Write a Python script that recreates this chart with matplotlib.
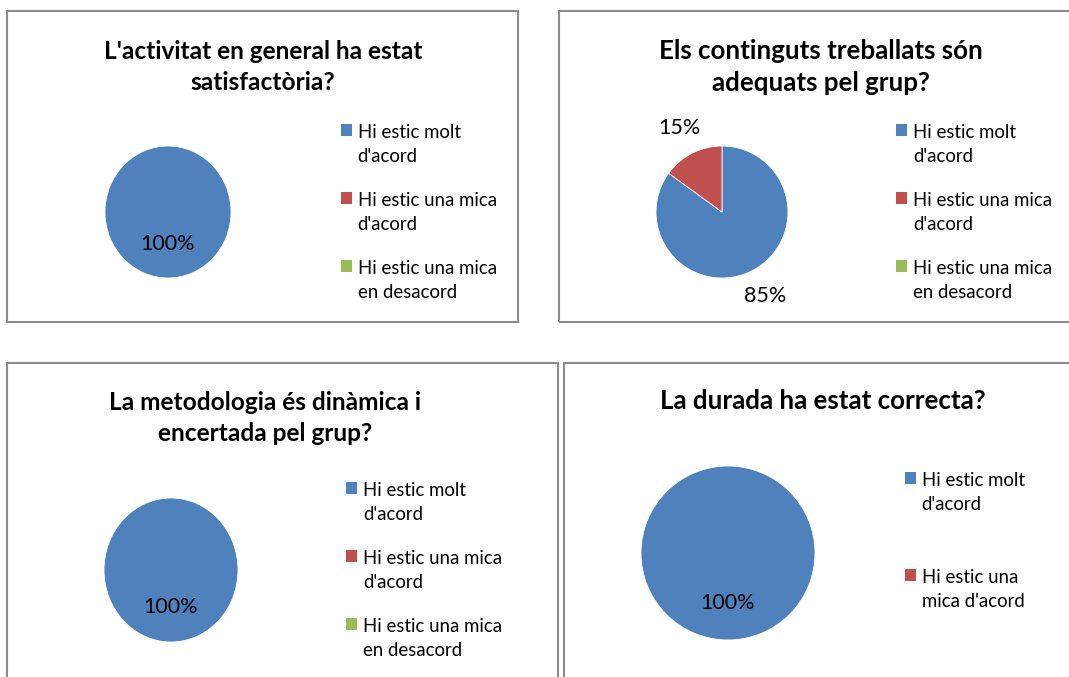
import matplotlib
matplotlib.use("Agg")
import matplotlib.pyplot as plt
from matplotlib.patches import Rectangle, Patch
from matplotlib.legend_handler import HandlerPatch

plt.rcParams['font.family'] = ['Lato', 'DejaVu Sans']

# Dades de l'enquesta (percentatges)
cats3 = ["Hi estic molt\nd'acord", "Hi estic una mica\nd'acord", "Hi estic una mica\nen desacord"]
cats2 = ["Hi estic molt\nd'acord", "Hi estic una\nmica d'acord"]
titles = ["L'activitat en general ha estat\nsatisfactòria?",
          "Els continguts treballats són\nadequats pel grup?",
          "La metodologia és dinàmica i\nencertada pel grup?",
          "La durada ha estat correcta?"]
satisfaccio = [100, 0, 0]
continguts = [85, 15, 0]
metodologia = [100, 0, 0]
durada = [100, 0]

colors = ['#4F81BD', '#C0504D', '#9BBB59']

W, H = 1069, 677
fig = plt.figure(figsize=(W / 100, H / 100), dpi=100)


def fx(x):
    return x / W


def fy(y):
    return 1 - y / H


# marcs dels gràfics
for (x0, y0, x1, y1) in [(7, 11, 518, 322), (559, 11, 1075, 322),
                         (7, 363, 558, 690), (564, 363, 1075, 690)]:
    fig.patches.append(Rectangle((fx(x0), fy(y1)), (x1 - x0) / W, (y1 - y0) / H,
                                 transform=fig.transFigure, fill=False,
                                 edgecolor='#8C8C8C', linewidth=1.5))


def first_line_box(legend, orig_handle, xdescent, ydescent, width, height, fontsize):
    # quadrat alineat amb la primera línia de l'etiqueta
    return Rectangle((-xdescent, -ydescent + 0.8 * fontsize), width, height)


def draw_panel(values, cats, title, cx, cy, rx, ry, tx, ty, lx, ly, spacing, pctdist, title_fs):
    ax = fig.add_axes([fx(cx - rx), fy(cy + ry), 2 * rx / W, 2 * ry / H])
    vals = [v for v in values if v > 0]
    cols = [colors[i] for i, v in enumerate(values) if v > 0]
    ax.pie(vals, colors=cols, startangle=90, counterclock=False,
           autopct=lambda p: '%d%%' % round(p), pctdistance=pctdist,
           wedgeprops=dict(edgecolor='white', linewidth=0.6),
           textprops=dict(fontsize=15.5, color='black'))
    ax.set_xlim(-1, 1)
    ax.set_ylim(-1, 1)
    ax.set_aspect('auto')
    fig.text(fx(tx), fy(ty), title, ha='center', va='center', fontsize=title_fs,
             fontweight='bold', linespacing=1.4)
    handles = [Patch(facecolor=colors[i]) for i in range(len(cats))]
    leg = ax.legend(handles, cats, loc='upper left', bbox_to_anchor=(fx(lx), fy(ly)),
                    bbox_transform=fig.transFigure, frameon=False, fontsize=13.4,
                    handlelength=0.6, handleheight=0.6, handletextpad=0.3,
                    labelspacing=spacing, borderpad=0, borderaxespad=0,
                    handler_map={Patch: HandlerPatch(patch_func=first_line_box)})
    for t in leg.get_texts():
        t.set_linespacing(1.5)


draw_panel(satisfaccio, cats3, titles[0], 168, 212, 63, 66, 263, 67, 341, 124, 1.45, 0.48, 17.6)
draw_panel(continguts, cats3, titles[1], 722, 212, 66, 66, 821, 67, 896, 124, 1.45, 1.43, 18.6)
draw_panel(metodologia, cats3, titles[2], 171, 570, 67, 72, 265, 418, 346, 482, 1.45, 0.52, 17.6)
draw_panel(durada, cats2, titles[3], 728, 553, 87, 87, 823, 401, 905, 472, 3.0, 0.58, 18.6)

fig.savefig('out.png', dpi=100)
